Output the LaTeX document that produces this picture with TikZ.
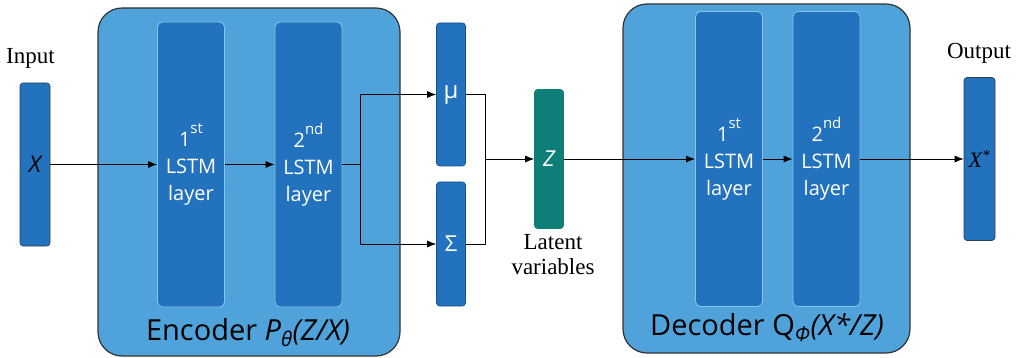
\documentclass[tikz,border=0pt]{standalone}
\usepackage{fontspec}
\setmainfont{Liberation Serif}
\setsansfont{Open Sans}
\usetikzlibrary{arrows.meta}
\definecolor{outerblue}{HTML}{4FA3DA}
\definecolor{innerblue}{HTML}{2272BE}
\definecolor{edgeblue}{HTML}{8CC3EC}
\definecolor{latentteal}{HTML}{0E7F78}
\definecolor{framegray}{HTML}{333333}
\newcommand\ordsup[1]{\raisebox{13pt}{\fontsize{15}{15}\selectfont #1}}
\begin{document}
\begin{tikzpicture}[x=1pt,y=-1pt,
  outerbox/.style={draw=framegray, line width=1.2pt, fill=outerblue, rounded corners=24pt, inner sep=0pt},
  lstmbox/.style={draw=edgeblue, line width=0.8pt, fill=innerblue, rounded corners=5pt, inner sep=0pt,
    minimum width=67pt, minimum height=295pt, text=white, align=center, font=\sffamily\fontsize{20}{27}\selectfont},
  vecbox/.style={draw=innerblue!70!black, line width=0.6pt, fill=innerblue, rounded corners=3pt, inner sep=0pt, minimum width=29pt},
  boxlabel/.style={font=\sffamily\fontsize{29}{33}\selectfont, anchor=base},
  seriflabel/.style={font=\fontsize{23}{25}\selectfont, inner sep=0pt},
  link/.style={draw=black, line width=0.8pt},
  arr/.style={link, -{Latex[length=9pt,width=7pt]}}]
  \useasboundingbox (0,0) rectangle (1019,358);
  % encoder and decoder frames
  \node[outerbox, minimum width=302pt, minimum height=348pt] (enc) at (249,182) {};
  \node[outerbox, minimum width=287pt, minimum height=349pt] (dec) at (766.5,178.5) {};
  \node[boxlabel] (enclab) at (248,340) {Encoder \textit{P}\textsubscript{\textit{θ}}\textit{(Z/X)}};
  \node[boxlabel] (declab) at (767,335) {Decoder Q\textsubscript{\textit{Φ}}\textit{(X*/Z)}};
  % LSTM layers
  \node[lstmbox, minimum height=285pt] (e1) at (191,164.5) {1\ordsup{st}\\LSTM\\layer};
  \node[lstmbox, minimum height=285pt] (e2) at (308.5,164.5) {2\ordsup{nd}\\LSTM\\layer};
  \node[lstmbox] (d1) at (729,159) {1\ordsup{st}\\LSTM\\layer};
  \node[lstmbox] (d2) at (826.5,159) {2\ordsup{nd}\\LSTM\\layer};
  % input, output, latent vectors
  \node[vecbox, draw=framegray!80!innerblue, minimum width=30pt, minimum height=163pt,
    font=\sffamily\itshape\fontsize{23}{23}\selectfont] (in) at (35,164.5) {X};
  \node[vecbox, draw=framegray!80!innerblue, minimum width=31pt, minimum height=163pt,
    font=\itshape\fontsize{22}{22}\selectfont] (out) at (979.5,159) {X\textsuperscript{*}};
  \node[vecbox, minimum height=143pt, text=white, font=\sffamily\fontsize{24}{24}\selectfont] (mu) at (451,94.5) {μ};
  \node[vecbox, minimum height=124pt, text=white, font=\sffamily\fontsize{22}{22}\selectfont] (sig) at (451,244) {Σ};
  \node[vecbox, draw=latentteal, fill=latentteal, minimum height=139pt, text=white,
    font=\sffamily\itshape\fontsize{22}{22}\selectfont] (z) at (549,159) {Z};
  \node[seriflabel, anchor=base] (inlab) at (30.5,64) {Input};
  \node[seriflabel, anchor=base] (outlab) at (979,59) {Output};
  \node[seriflabel, anchor=north, align=center] (zlab) at (553,234) {Latent\\variables};
  % connectors
  \coordinate (split) at (360,164.5);
  \coordinate (join) at (485,159);
  \draw[arr] (in) -- (e1);
  \draw[arr] (e1) -- (e2);
  \draw[link] (e2.east) -- (split);
  \draw[arr] (split) |- (mu);
  \draw[arr] (split) |- (sig);
  \draw[link] (mu) -| (join);
  \draw[link] (sig) -| (join);
  \draw[arr] (join) -- (z);
  \draw[arr] (z) -- (d1);
  \draw[arr] (d1) -- (d2);
  \draw[arr] (d2) -- (out);
\end{tikzpicture}
\end{document}
